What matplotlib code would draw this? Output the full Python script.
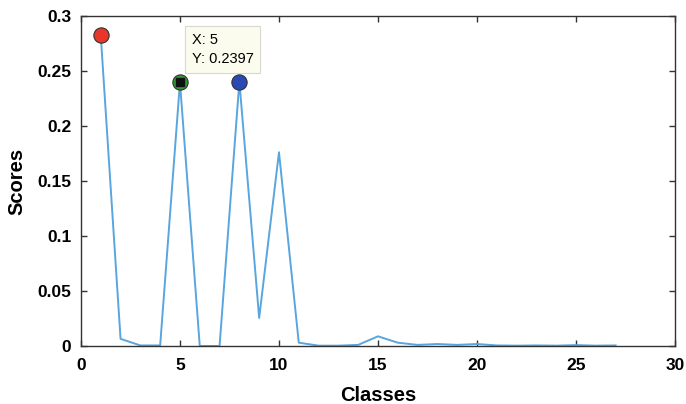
import matplotlib
matplotlib.use("Agg")
import matplotlib.pyplot as plt

plt.rcParams['font.family'] = ['Liberation Sans', 'DejaVu Sans']

classes = list(range(1, 28))
scores = [0.2825, 0.0065, 0.0005, 0.0005, 0.2397, 0.0, 0.0, 0.2405, 0.0255,
          0.1762, 0.003, 0.0003, 0.0003, 0.001, 0.0088, 0.003, 0.001, 0.0018,
          0.001, 0.0018, 0.0005, 0.0003, 0.0005, 0.0003, 0.0008, 0.0003, 0.0005]

highlight_x = [1, 5, 8]
highlight_colors = ['#e8362b', '#2f9a2f', '#2c48b5']
tip_x, tip_y = 5, 0.2397

fig = plt.figure(figsize=(6.86, 4.04), dpi=100)
ax = fig.add_axes([0.118, 0.1436, 0.866, 0.8164])

ax.plot(classes, scores, color='#58a6dd', lw=1.4, zorder=2)

for hx, c in zip(highlight_x, highlight_colors):
    ax.plot(hx, scores[hx - 1], 'o', ms=11, mfc=c, mec='#333333', mew=0.8, zorder=3)

ax.plot(tip_x, tip_y, 's', ms=5.5, mfc='#111111', mec='#111111', zorder=4)
ax.annotate(f"X: {tip_x}\nY: {tip_y}", xy=(tip_x, tip_y), xytext=(5.6, 0.2545),
            fontsize=10.5, linespacing=1.5, va='bottom', ha='left',
            bbox=dict(boxstyle='square,pad=0.45', fc='#fbfbee', ec='#d8d8cc', lw=0.8),
            zorder=5)

ax.set_xlim(0, 30)
ax.set_ylim(0, 0.3)
ax.set_xticks([0, 5, 10, 15, 20, 25, 30])
ax.set_yticks([0, 0.05, 0.1, 0.15, 0.2, 0.25, 0.3])
ax.set_yticklabels(['0', '0.05', '0.1', '0.15', '0.2', '0.25', '0.3'])
ax.tick_params(direction='in', top=True, right=True, length=4, width=1,
               color='#333333', labelsize=12.5)
ax.tick_params(axis='x', pad=9)
ax.tick_params(axis='y', pad=7)
for lab in ax.get_xticklabels() + ax.get_yticklabels():
    lab.set_fontweight('bold')
for sp in ax.spines.values():
    sp.set_color('#333333')
    sp.set_linewidth(1.0)

ax.set_xlabel('Classes', fontsize=14.5, fontweight='bold', labelpad=9)
ax.set_ylabel('Scores', fontsize=14.5, fontweight='bold', labelpad=8)

fig.savefig('out.png', dpi=100)
